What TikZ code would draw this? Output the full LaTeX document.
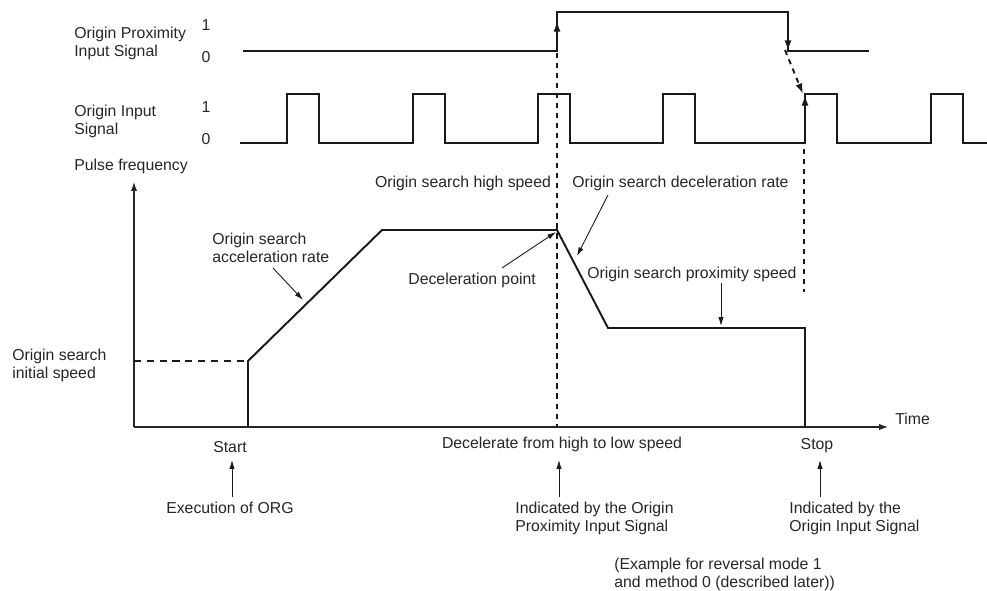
\documentclass[tikz,border=0pt]{standalone}
\usepackage{fontspec}
\setmainfont{Liberation Sans}
\usetikzlibrary{arrows.meta,positioning}

\begin{document}
\begin{tikzpicture}[x=0.02cm,y=-0.02cm,
    font=\fontsize{9}{10.2}\selectfont,
    lbl/.style={inner sep=0pt,align=left,text=black!85},
    sig/.style={line width=1.1pt,black!90},
    axis/.style={line width=0.6pt,black!85,-{Latex[length=5pt,width=3.5pt]}},
    note/.style={line width=0.5pt,black!90,-{Latex[length=5pt,width=3pt]}},
    edge/.style={sig,-{Latex[length=6pt,width=4pt]}},
    guide/.style={line width=1.1pt,black!90,dash pattern=on 3pt off 2.7pt}
  ]
  \useasboundingbox (0,0) rectangle (987,591);

  % signal names
  \node[lbl,anchor=west] (proxname) at (74,43) {Origin Proximity\\Input Signal};
  \node[lbl] (prox1) at (206,25) {1};
  \node[lbl] (prox0) at (206,57) {0};
  \node[lbl,anchor=west] (orgname) at (74,121) {Origin Input\\Signal};
  \node[lbl] (org1) at (206,107) {1};
  \node[lbl] (org0) at (206,139) {0};
  \node[lbl,anchor=west] (yname) at (74,166) {Pulse frequency};

  % origin proximity input signal
  \coordinate (proxon) at (557,51);
  \coordinate (proxoff) at (788,51);
  \draw[sig] (243,51) -- (proxon) -- (557,12) -- (788,12) -- (proxoff) -- (869,51);
  \draw[edge] (proxon) -- (557,21);
  \draw[edge] (788,12) -- (proxoff);

  % origin input signal
  \draw[sig] (240,143) foreach \r in {287,413,538,663,805,931} {
      -- (\r,143) -- (\r,94) -- (\r+32,94) -- (\r+32,143)} -- (987,143);
  \coordinate (orgon) at (805,143);
  \coordinate (orgtop) at (805,95);
  \draw[edge] (orgon) -- (orgtop);
  \draw[guide,-{Latex[length=6pt,width=4pt]}] (785,50) -- (803,94);

  % axes
  \coordinate (origin) at (134,427);
  \draw[axis] (origin) -- (134,182);
  \draw[axis] (origin) -- (888,427);
  \node[lbl,anchor=west] (time) at (895,419) {Time};

  % speed profile
  \coordinate (startpt) at (248,427);
  \coordinate (initpt) at (248,361);
  \coordinate (highpt) at (382,230);
  \coordinate (decpt) at (557,230);
  \coordinate (lowpt) at (608,328);
  \coordinate (stoptop) at (805,328);
  \coordinate (stoppt) at (805,427);
  \draw[sig] (startpt) -- (initpt) -- (highpt) -- (decpt) -- (lowpt) -- (stoptop) -- (stoppt);
  \draw[sig,dash pattern=on 4pt off 3.3pt] (134,361) -- (initpt);
  \draw[guide] (557,53) -- (557,427);
  \draw[guide] (804,149) -- (804,292);

  % speed labels
  \node[lbl] (highname) at (463,183) {Origin search high speed};
  \node[lbl,anchor=west] (decname) at (572,183) {Origin search deceleration rate};
  \node[lbl,anchor=west] (accname) at (212,248) {Origin search\\acceleration rate};
  \node[lbl,anchor=west] (dpname) at (408,280) {Deceleration point};
  \node[lbl,anchor=west] (proxspd) at (587,274) {Origin search proximity speed};
  \node[lbl,anchor=west] (initname) at (12,365) {Origin search\\initial speed};
  \coordinate (acctail) at (273,268);
  \coordinate (acchead) at (303,300);
  \coordinate (dectail) at (608,195);
  \coordinate (dechead) at (577,256);
  \coordinate (dptail) at (502,268);
  \coordinate (proxtail) at (721,283);
  \coordinate (proxhead) at (721,326);
  \draw[note] (acctail) -- (acchead);
  \draw[note] (dectail) -- (dechead);
  \draw[note] (dptail) -- (556,232);
  \draw[note] (proxtail) -- (proxhead);

  % events below the time axis
  \node[lbl] (start) at (230,447) {Start};
  \node[lbl] (exec) at (230,508) {Execution of ORG};
  \node[lbl] (slow) at (562,444) {Decelerate from high to low speed};
  \node[lbl,anchor=west] (byprox) at (515,518) {Indicated by the Origin\\Proximity Input Signal};
  \node[lbl] (stop) at (817,446) {Stop};
  \node[lbl,anchor=west] (byorg) at (789,518) {Indicated by the\\Origin Input Signal};
  \node[lbl,anchor=west] (example) at (614,574) {(Example for reversal mode 1\\and method 0 (described later))};
  \draw[note] (232,497) -- (232,460);
  \draw[note] (559,497) -- (559,460);
  \draw[note] (820,497) -- (820,460);
\end{tikzpicture}
\end{document}
